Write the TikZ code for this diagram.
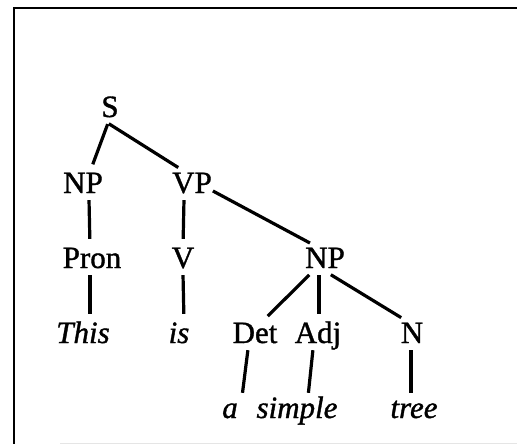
\documentclass[tikz,border=0pt]{standalone}
\usepackage{fontspec}
\setmainfont[FakeBold=1.2, AutoFakeBold=1.2]{Liberation Serif}

\begin{document}
\begin{tikzpicture}[
    x=1pt, y=-1pt,
    cat/.style={
        inner sep=0pt,
        anchor=base,
        text height=21pt,
        text depth=6pt,
        font=\fontsize{31}{36}\selectfont
    },
    word/.style={
        cat,
        font=\fontsize{31}{36}\selectfont\itshape
    },
    branch/.style={
        line width=3.2pt,
        shorten <=1pt,
        shorten >=8pt
    },
    leaf/.style={
        branch,
        shorten >=4pt
    }
]

\useasboundingbox (0,0) rectangle (517,444);

% Frame
\draw[line width=2pt] (517,8) -- (14,8) -- (14,444);
\draw[line width=1pt, gray!20] (60,443) -- (517,443);

% Categories
\node[cat] (s) at (110,117) {S};
\node[cat] (np) at (83,193) {NP};
\node[cat] (vp) at (192,193) {VP};
\node[cat] (pron) at (92,268) {Pron};
\node[cat] (v) at (183,268) {V};
\node[cat] (np2) at (325,268) {NP};
\node[cat] (det) at (255,343) {Det};
\node[cat] (adj) at (318,343) {Adj};
\node[cat] (n) at (412,343) {N};

% Words
\node[word] (this) at (83,343) {This};
\node[word] (is) at (179,343) {is};
\node[word] (a) at (230,418) {a};
\node[word] (simple) at (297,418) {simple};
\node[word] (tree) at (414,418) {tree};

% Branches
\draw[branch] ([xshift=-2pt]s.south) -- ([xshift=7pt]np.north);
\draw[branch] ([xshift=-2pt]s.south) -- ([xshift=-7pt]vp.north);
\draw[branch] ([xshift=6pt]np.south) -- ([xshift=-2pt]pron.north);
\draw[branch] ([xshift=-8pt]vp.south) -- (v.north);
\draw[branch] ([yshift=-5pt]vp.east) -- ([xshift=-8pt]np2.north);
\draw[branch] ([xshift=-2pt]pron.south) -- ([xshift=7pt]this.north);
\draw[branch] (v.south) -- ([xshift=5pt]is.north);
\draw[branch] ([xshift=-15pt]np2.south) -- ([xshift=7pt]det.north);
\draw[branch] ([xshift=-6pt]np2.south) -- ([xshift=1pt]adj.north);
\draw[branch] ([xshift=5pt]np2.south) -- ([xshift=-4pt]n.north);
\draw[leaf] ([xshift=-7pt]det.south) -- ([xshift=12pt]a.north);
\draw[leaf] ([xshift=-5pt]adj.south) -- ([xshift=11pt]simple.north);
\draw[leaf] ([xshift=-1pt]n.south) -- ([xshift=-3pt]tree.north);

\end{tikzpicture}
\end{document}
